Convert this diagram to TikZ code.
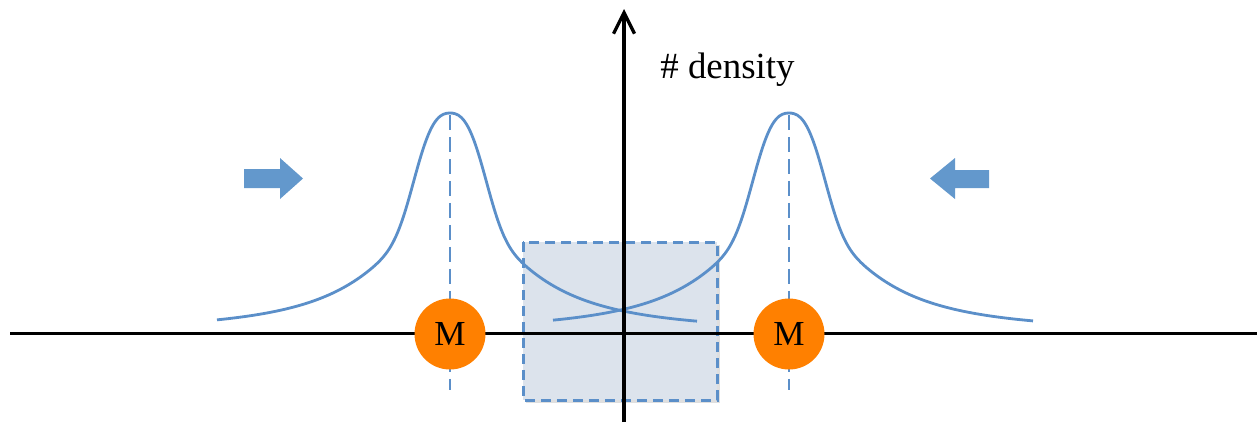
\documentclass[tikz,border=0pt]{standalone}
\usepackage{fontspec}
\setmainfont{Liberation Serif}
\usetikzlibrary{arrows.meta,shadows}
\definecolor{lineblue}{HTML}{5B8FC9}
\definecolor{pushblue}{HTML}{6398CC}
\definecolor{windowfill}{HTML}{DCE3EC}
\definecolor{massorange}{HTML}{FF8000}

\begin{document}
\begin{tikzpicture}[x=0.02cm, y=-0.02cm,
    declare function={peakh(\d)=91*exp(-min(abs(\d/41)^3,10)) + 129/(1+(\d/78.5)^2);},
    peak/.style={draw=lineblue, line width=1.6pt, smooth, samples=160},
    centre/.style={draw=lineblue, line width=1.6pt, dash pattern=on 0.3cm off 0.14cm},
    window/.style={draw=lineblue, fill=windowfill, line width=1.7pt, dash pattern=on 0.2cm off 0.12cm,
      drop shadow={shadow xshift=1.5pt, shadow yshift=-1.5pt, opacity=0.25}},
    mass/.style={circle, fill=massorange, inner sep=0pt, minimum size=1.42cm, font=\fontsize{20}{24}\selectfont},
    axis/.style={draw=black, line width=1.7pt}]
  \useasboundingbox (0,0) rectangle (1257,424);

  \draw[window] (523,242) rectangle (717,400);

  \draw[peak] plot[domain=-233:247] ({450+\x}, {333-peakh(\x)});
  \draw[peak] plot[domain=-236:244] ({789+\x}, {333-peakh(\x)});

  \coordinate (topL) at (450,115);
  \coordinate (footL) at (450,390);
  \coordinate (topR) at (789,115);
  \coordinate (footR) at (789,390);
  \draw[centre] (topL) -- (footL);
  \draw[centre] (topR) -- (footR);

  \fill[pushblue] (244,169) -- (280,169) -- (280,158) -- (303,178.5) -- (280,199) -- (280,188) -- (244,188) -- cycle;
  \fill[pushblue] (989,170) -- (955,170) -- (955,158) -- (930,178.5) -- (955,199) -- (955,188) -- (989,188) -- cycle;

  \coordinate (xl) at (10,333);
  \coordinate (xr) at (1257,333);
  \coordinate (yb) at (624,422);
  \coordinate (yt) at (624,9);
  \draw[axis] (xl) -- (xr);
  \draw[axis, line width=1.9pt, -{Straight Barb[length=0.42cm, width=0.42cm]}] (yb) -- (yt);

  \node[mass] (mL) at (450,334) {M};
  \node[mass] (mR) at (789,334) {M};

  \node[anchor=base west, inner sep=0pt, font=\fontsize{21}{25}\selectfont] (dens) at (660,78) {\# density};
\end{tikzpicture}
\end{document}
